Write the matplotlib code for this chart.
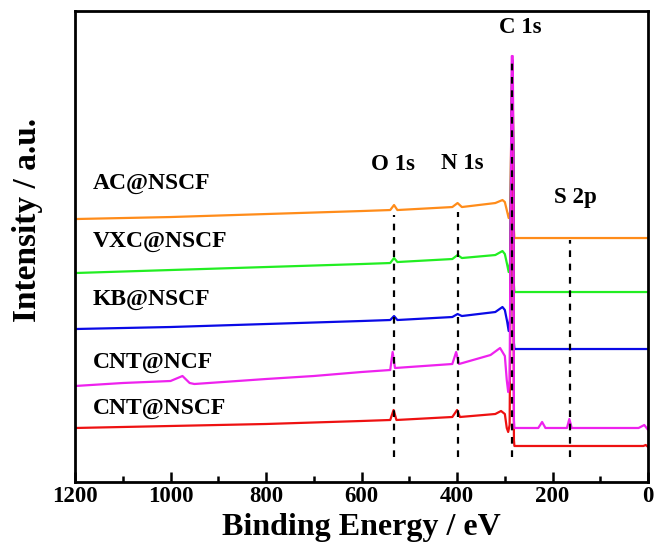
import matplotlib
matplotlib.use("Agg")
import matplotlib.pyplot as plt
from matplotlib.ticker import MultipleLocator

plt.rcParams['font.family'] = ['Liberation Serif', 'DejaVu Serif']
plt.rcParams['font.weight'] = 'bold'

# binding energies (eV) of the key points
e_ac = [1200, 1000, 800, 600, 540, 532, 525, 410, 399, 390, 320, 305, 300, 295, 292, 289, 287, 284.5, 282, 281, 280, 0]
i_ac = [263, 265, 268, 271, 272, 277, 272, 275, 279, 275, 279, 282, 280, 270, 264, 270, 332, 422, 332, 252, 244, 244]

e_vxc = [1200, 1000, 800, 600, 540, 532, 525, 410, 399, 390, 320, 305, 300, 295, 292, 289, 287, 284.5, 282, 281, 280, 0]
i_vxc = [209, 212, 215, 218, 219, 224, 220, 223, 227, 224, 227, 231, 228, 217, 210, 220, 322, 422, 322, 197, 190, 190]

e_kb = [1200, 1000, 800, 600, 540, 532, 525, 410, 399, 390, 320, 305, 300, 295, 292, 289, 287, 284.5, 282, 281, 280, 0]
i_kb = [153, 155, 158, 161, 162, 166, 162, 165, 168, 166, 170, 175, 172, 160, 151, 164, 302, 422, 302, 139, 133, 133]

e_ncf = [1200, 1100, 1000, 975, 960, 950, 800, 700, 600, 540, 535, 530, 410, 402, 396, 330, 310, 300, 296, 293, 290,
         287, 285.5, 283.5, 282, 281, 280, 230, 222, 215, 170, 165, 160, 20, 8, 0]
i_ncf = [96, 99, 101, 106, 99, 98, 103, 106, 110, 112, 130, 114, 118, 130, 118, 127, 134, 126, 102, 90, 102,
         332, 426, 426, 332, 62, 54, 54, 60, 54, 54, 63, 54, 54, 57, 52]

e_nscf = [1200, 1000, 800, 600, 540, 533, 527, 410, 400, 394, 320, 308, 300, 296, 293, 290, 287, 284.5, 282, 281, 280, 10, 5, 0]
i_nscf = [54, 56, 58, 61, 62, 72, 62, 65, 72, 65, 68, 71, 68, 54, 50, 57, 282, 420, 282, 42, 36, 36, 37, 35]

sample_names = ['AC@NSCF', 'VXC@NSCF', 'KB@NSCF', 'CNT@NCF', 'CNT@NSCF']
sample_label_y = [299, 241, 183, 120, 73]

peak_names = ['O 1s', 'N 1s', 'C 1s', 'S 2p']
peak_pos = [532, 399, 284.5, 164]
peak_line_top = [267, 270, 422, 242]
peak_text_x = [534, 390, 268, 153]
peak_text_y = [318, 319, 455, 285]

fig = plt.figure(figsize=(6.58, 5.54), dpi=100)
ax = fig.add_axes([0.114, 0.130, 0.871, 0.850])

ax.plot(e_ac, i_ac, color='#ff8c1a', lw=1.6)
ax.plot(e_vxc, i_vxc, color='#22ee22', lw=1.6)
ax.plot(e_kb, i_kb, color='#0a0ae6', lw=1.6)
ax.plot(e_nscf, i_nscf, color='#ee1111', lw=1.6)
ax.plot(e_ncf, i_ncf, color='#ee22ee', lw=1.6)

for x, top in zip(peak_pos, peak_line_top):
    ax.plot([x, x], [25, top], color='black', lw=1.6, ls=(0, (3, 3)))

for name, x, y in zip(peak_names, peak_text_x, peak_text_y):
    ax.text(x, y, name, fontsize=16.5, fontweight='bold', ha='center', va='center')

for name, y in zip(sample_names, sample_label_y):
    ax.text(1163, y, name, fontsize=17, fontweight='bold', ha='left', va='center')

ax.set_xlim(1200, 0)
ax.set_ylim(0, 471)
ax.set_yticks([])
ax.xaxis.set_major_locator(MultipleLocator(200))
ax.xaxis.set_minor_locator(MultipleLocator(100))
ax.tick_params(axis='x', which='major', direction='in', length=7, width=1.8, labelsize=16.5, pad=3)
ax.tick_params(axis='x', which='minor', direction='in', length=4, width=1.8)
for lab in ax.get_xticklabels():
    lab.set_fontweight('bold')
for sp in ax.spines.values():
    sp.set_linewidth(2)

ax.set_xlabel('Binding Energy / eV', fontsize=23, fontweight='bold', labelpad=4)
ax.set_ylabel('Intensity / a.u.', fontsize=24, fontweight='bold')
ax.yaxis.set_label_coords(-0.055, 0.557)

fig.savefig('out.png', dpi=100)
